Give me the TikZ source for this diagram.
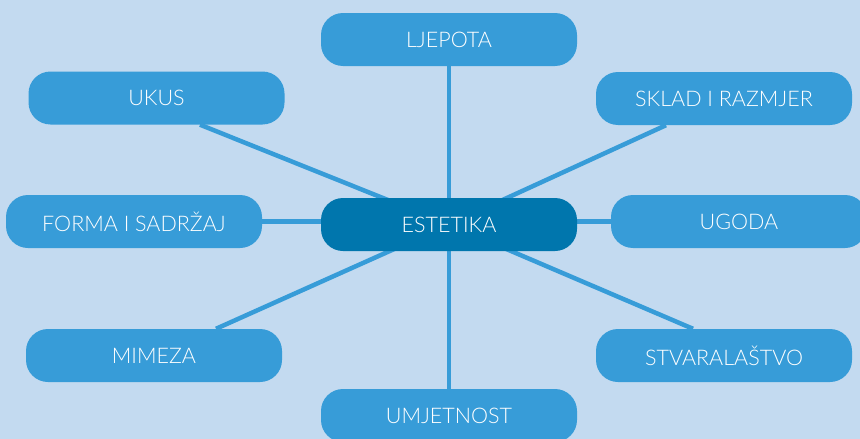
\documentclass[tikz,border=0pt]{standalone}
\usepackage{fontspec}
\setmainfont{Lato}[UprightFont=* Light]
\usetikzlibrary{calc,backgrounds}
\definecolor{bgc}{HTML}{C3DAF0}
\definecolor{boxc}{HTML}{379CD8}
\definecolor{midc}{HTML}{0076AD}
\pgfdeclarelayer{bgfill}
\pgfsetlayers{bgfill,background,main}
\tikzset{
  leaf/.style={fill=boxc, rounded corners=22pt, minimum width=256pt, minimum height=53pt,
    inner sep=0pt, text=white, font=\fontsize{21.5}{24}\selectfont},
  hub/.style={leaf, fill=midc},
  link/.style={draw=boxc, line width=4.5pt}
}
\begin{document}
\begin{tikzpicture}[x=1pt,y=-1pt]
\begin{pgfonlayer}{bgfill}
\fill[bgc] (0,0) rectangle (860,439);
\end{pgfonlayer}
\useasboundingbox (0,0) rectangle (860,439);
\node[hub]  (est)   at (449,224.5) {ESTETIKA};
\node[leaf] (ljep)  at (449,39.5)  {LJEPOTA};
\node[leaf] (ukus)  at (156.5,98)  {UKUS};
\node[leaf] (sklad) at (724,98.5)  {SKLAD I RAZMJER};
\node[leaf] (forma) at (134,221.5) {FORMA I SADRŽAJ};
\node[leaf] (ugoda) at (739,221.5) {UGODA};
\node[leaf] (mim)   at (154,355.5) {MIMEZA};
\node[leaf] (stv)   at (724,355.5) {STVARALAŠTVO};
\node[leaf] (umj)   at (449,415.5) {UMJETNOST};
\begin{pgfonlayer}{background}
\draw[link] (ljep.south) -- (est.center);
\draw[link] (umj.north) -- (est.center);
\draw[link] ($(ukus.south)+(43.5,0)$) -- (est.center);
\draw[link] ($(sklad.south)+(-58,0)$) -- (est.center);
\draw[link] ($(mim.north)+(62,0)$) -- (est.center);
\draw[link] ($(stv.north)+(-31,0)$) -- (est.center);
\draw[link] (forma.east) -- (forma.east -| est.center);
\draw[link] (ugoda.west) -- (ugoda.west -| est.center);
\end{pgfonlayer}
\end{tikzpicture}
\end{document}
